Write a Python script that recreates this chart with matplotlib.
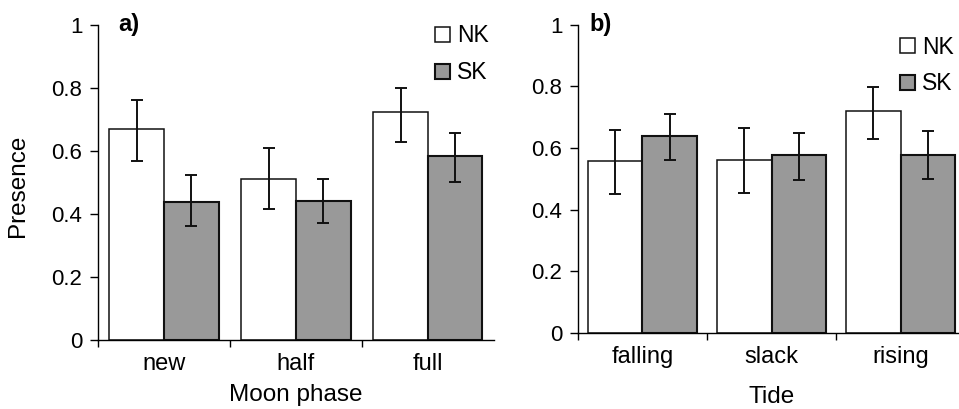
import matplotlib
matplotlib.use("Agg")
import matplotlib.pyplot as plt
import numpy as np

plt.rcParams['font.family'] = ['Liberation Sans', 'DejaVu Sans']

moon_cats = ["new", "half", "full"]
moon_nk = [0.669, 0.512, 0.723]
moon_nk_lo = [0.567, 0.417, 0.627]
moon_nk_hi = [0.760, 0.609, 0.798]
moon_sk = [0.438, 0.442, 0.582]
moon_sk_lo = [0.362, 0.372, 0.502]
moon_sk_hi = [0.524, 0.512, 0.657]

tide_cats = ["falling", "slack", "rising"]
tide_nk = [0.557, 0.562, 0.721]
tide_nk_lo = [0.450, 0.455, 0.629]
tide_nk_hi = [0.659, 0.665, 0.798]
tide_sk = [0.639, 0.577, 0.577]
tide_sk_lo = [0.561, 0.496, 0.500]
tide_sk_hi = [0.710, 0.649, 0.654]

yticks = [0, 0.2, 0.4, 0.6, 0.8, 1]
ytick_labels = ["0", "0.2", "0.4", "0.6", "0.8", "1"]

FS_Y = 16
FS_X = 17
FS_LAB = 17.5
FS_LEG = 16.5
GRAY = "#999999"
INK = "#111111"

fig = plt.figure(figsize=(9.59, 4.09), dpi=100)
ax_a = fig.add_axes([0.1022, 0.1687, 0.4129, 0.7709])
ax_b = fig.add_axes([0.6027, 0.1858, 0.4036, 0.7538])


def draw(ax, cats, nk, nklo, nkhi, sk, sklo, skhi, xlabel, xlab_y, tag, tag_x, leg_anchor, barw):
    x = np.arange(len(cats))
    nk = np.array(nk); sk = np.array(sk)
    err_nk = [nk - np.array(nklo), np.array(nkhi) - nk]
    err_sk = [sk - np.array(sklo), np.array(skhi) - sk]
    b1 = ax.bar(x - barw / 2, nk, barw, color="white", edgecolor=INK, linewidth=1.1, label="NK", zorder=2)
    b2 = ax.bar(x + barw / 2, sk, barw, color=GRAY, edgecolor=INK, linewidth=1.5, label="SK", zorder=2)
    ax.errorbar(x - barw / 2, nk, yerr=err_nk, fmt="none", ecolor=INK, elinewidth=1.4, capsize=4, capthick=1.4, zorder=3)
    ax.errorbar(x + barw / 2, sk, yerr=err_sk, fmt="none", ecolor=INK, elinewidth=1.4, capsize=4, capthick=1.4, zorder=3)
    ax.set_xlim(-0.5, len(cats) - 0.5)
    ax.set_ylim(0, 1)
    ax.set_yticks(yticks)
    ax.set_yticklabels(ytick_labels, fontsize=FS_Y)
    ax.set_xticks(x)
    ax.set_xticklabels(cats, fontsize=FS_X)
    ax.set_xticks(np.arange(len(cats)) - 0.5, minor=True)
    ax.tick_params(axis="x", which="major", length=0, pad=9.5)
    ax.tick_params(axis="x", which="minor", length=5, width=1, direction="out")
    ax.tick_params(axis="y", length=5.8, width=1, direction="out", pad=5.5)
    for s in ["top", "right"]:
        ax.spines[s].set_visible(False)
    for s in ["left", "bottom"]:
        ax.spines[s].set_linewidth(1)
    ax.set_xlabel(xlabel, fontsize=FS_LAB, va="baseline")
    ax.xaxis.set_label_coords(0.5, xlab_y)
    ax.text(tag_x, 1.0, tag, transform=ax.transAxes, fontsize=17, fontweight="bold", va="center", ha="left")
    ax.legend(handles=[b1, b2], loc="upper left", bbox_to_anchor=leg_anchor, bbox_transform=fig.transFigure,
              frameon=False, fontsize=FS_LEG, handlelength=0.65, handleheight=0.65, handletextpad=0.3,
              labelspacing=0.6, borderpad=0, borderaxespad=0)


draw(ax_a, moon_cats, moon_nk, moon_nk_lo, moon_nk_hi, moon_sk, moon_sk_lo, moon_sk_hi,
     "Moon phase", -0.193, "a)", 0.05, (435 / 959, 1 - 24.5 / 409), 0.413)
draw(ax_b, tide_cats, tide_nk, tide_nk_lo, tide_nk_hi, tide_sk, tide_sk_lo, tide_sk_hi,
     "Tide", -0.228, "b)", 0.03, (900 / 959, 1 - 35.5 / 409), 0.42)
ax_a.set_ylabel("Presence", fontsize=FS_LAB, va="center")
ax_a.yaxis.set_label_coords(-0.202, 0.49)

fig.savefig("out.png", dpi=100)
